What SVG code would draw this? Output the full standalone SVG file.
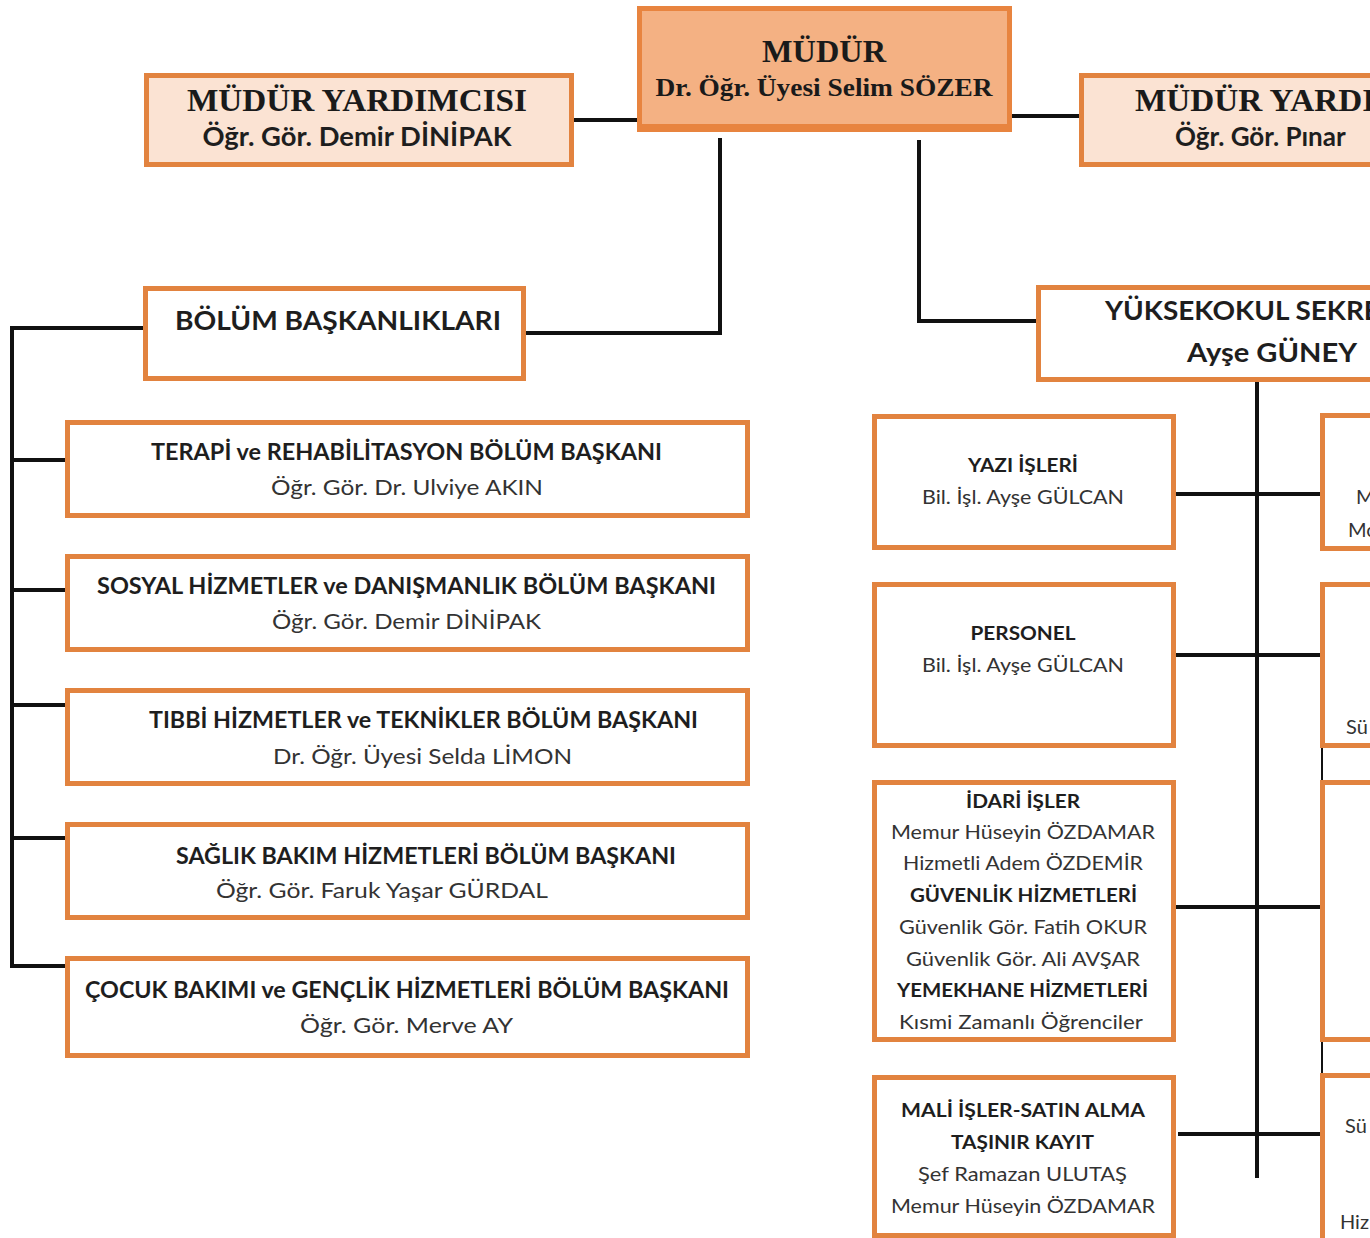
<svg xmlns="http://www.w3.org/2000/svg" width="1370" height="1238" viewBox="0 0 1370 1238">
<style>
.box{fill:#ffffff;stroke:#E2833F;stroke-width:5}
.peach{fill:#FBE3D3;stroke:#E2833F;stroke-width:5}
.main{fill:#F4B183;stroke:#E8843F;stroke-width:5}
.ln{fill:none;stroke:#111;stroke-width:4}
.thin{fill:none;stroke:#111;stroke-width:2}
.tb{font-family:"Liberation Serif","Times New Roman",serif;font-weight:bold;fill:#1a1a1a;text-anchor:middle}
.hb{font-family:Lato,"Open Sans","Liberation Sans",sans-serif;font-weight:bold;fill:#1e1e1e;text-anchor:middle}
.hr{font-family:Lato,"Open Sans","Liberation Sans",sans-serif;font-weight:normal;fill:#333;text-anchor:middle}
.st{text-anchor:start}
</style>
<rect width="1370" height="1238" fill="#ffffff"/>
<g id="connectors">
<path class="ln" d="M574,120 H637"/>
<path class="ln" d="M1012,116 H1079"/>
<path class="ln" d="M720,138 V333 H526"/>
<path class="ln" d="M919,140 V321 H1036"/>
<path class="ln" d="M143,328 H12 V966 H65"/>
<path class="ln" d="M12,460 H65 M12,590 H65 M12,705 H65 M12,838 H65"/>
<path class="ln" d="M1257,377 V1178"/>
<path class="ln" d="M1176,494 H1320 M1176,655 H1320 M1176,907 H1320 M1178,1134 H1320"/>
<path class="thin" d="M1322,748 V780 M1322,1042 V1073"/>
</g>
<g id="mudur">
<rect class="main" x="639.5" y="8.5" width="370" height="121"/>
<rect x="639" y="124" width="371" height="7" fill="#E8843F"/>
<text class="tb" x="824" y="62" font-size="32" textLength="124" lengthAdjust="spacingAndGlyphs">MÜDÜR</text>
<text class="tb" x="824" y="96" font-size="25" textLength="337" lengthAdjust="spacingAndGlyphs">Dr. Öğr. Üyesi Selim SÖZER</text>
</g>
<g id="mudur-yardimcisi-1">
<rect class="peach" x="146.5" y="75.5" width="425" height="89"/>
<text class="tb" x="357" y="111" font-size="32" textLength="340" lengthAdjust="spacingAndGlyphs">MÜDÜR YARDIMCISI</text>
<text class="hb" x="357" y="146" font-size="26" textLength="309" lengthAdjust="spacingAndGlyphs">Öğr. Gör. Demir DİNİPAK</text>
</g>
<g id="mudur-yardimcisi-2">
<rect class="peach" x="1081.5" y="75.5" width="400" height="89"/>
<text class="tb st" x="1135" y="111" font-size="32" textLength="340" lengthAdjust="spacingAndGlyphs">MÜDÜR YARDIMCISI</text>
<text class="hb st" x="1175" y="146" font-size="26">Öğr. Gör. Pınar</text>
</g>
<g id="bolum-baskanliklari">
<rect class="box" x="145.5" y="288.5" width="378" height="90"/>
<text class="hb" x="338" y="330" font-size="27" textLength="326" lengthAdjust="spacingAndGlyphs">BÖLÜM BAŞKANLIKLARI</text>
</g>
<g id="dept-1">
<rect class="box" x="67.5" y="422.5" width="680" height="93"/>
<text class="hb" x="406.5" y="460" font-size="22" textLength="511" lengthAdjust="spacingAndGlyphs">TERAPİ ve REHABİLİTASYON BÖLÜM BAŞKANI</text>
<text class="hr" x="407" y="495" font-size="22" textLength="272" lengthAdjust="spacingAndGlyphs">Öğr. Gör. Dr. Ulviye AKIN</text>
</g>
<g id="dept-2">
<rect class="box" x="67.5" y="556.5" width="680" height="93"/>
<text class="hb" x="406.5" y="594" font-size="22" textLength="619" lengthAdjust="spacingAndGlyphs">SOSYAL HİZMETLER ve DANIŞMANLIK BÖLÜM BAŞKANI</text>
<text class="hr" x="406.5" y="629" font-size="22" textLength="269" lengthAdjust="spacingAndGlyphs">Öğr. Gör. Demir DİNİPAK</text>
</g>
<g id="dept-3">
<rect class="box" x="67.5" y="690.5" width="680" height="93"/>
<text class="hb" x="423.5" y="728" font-size="22" textLength="549" lengthAdjust="spacingAndGlyphs">TIBBİ HİZMETLER ve TEKNİKLER BÖLÜM BAŞKANI</text>
<text class="hr" x="422.5" y="764" font-size="22" textLength="299" lengthAdjust="spacingAndGlyphs">Dr. Öğr. Üyesi Selda LİMON</text>
</g>
<g id="dept-4">
<rect class="box" x="67.5" y="824.5" width="680" height="93"/>
<text class="hb" x="426" y="864" font-size="22" textLength="500" lengthAdjust="spacingAndGlyphs">SAĞLIK BAKIM HİZMETLERİ BÖLÜM BAŞKANI</text>
<text class="hr" x="382" y="898" font-size="22" textLength="332" lengthAdjust="spacingAndGlyphs">Öğr. Gör. Faruk Yaşar GÜRDAL</text>
</g>
<g id="dept-5">
<rect class="box" x="67.5" y="958.5" width="680" height="97"/>
<text class="hb" x="407" y="998" font-size="22" textLength="644" lengthAdjust="spacingAndGlyphs">ÇOCUK BAKIMI ve GENÇLİK HİZMETLERİ BÖLÜM BAŞKANI</text>
<text class="hr" x="406.5" y="1033" font-size="22" textLength="213" lengthAdjust="spacingAndGlyphs">Öğr. Gör. Merve AY</text>
</g>
<g id="yuksekokul-sekreteri">
<rect class="box" x="1038.5" y="287.5" width="400" height="92"/>
<text class="hb st" x="1105" y="320" font-size="27" textLength="334" lengthAdjust="spacingAndGlyphs">YÜKSEKOKUL SEKRETERİ</text>
<text class="hb" x="1272" y="362" font-size="27" textLength="170" lengthAdjust="spacingAndGlyphs">Ayşe GÜNEY</text>
</g>
<g id="yazi-isleri">
<rect class="box" x="874.5" y="416.5" width="299" height="131"/>
<text class="hb" x="1023" y="472" font-size="19" textLength="110" lengthAdjust="spacingAndGlyphs">YAZI İŞLERİ</text>
<text class="hr" x="1023" y="504" font-size="20" textLength="202" lengthAdjust="spacingAndGlyphs">Bil. İşl. Ayşe GÜLCAN</text>
</g>
<g id="personel">
<rect class="box" x="874.5" y="584.5" width="299" height="161"/>
<text class="hb" x="1023" y="640" font-size="19" textLength="105" lengthAdjust="spacingAndGlyphs">PERSONEL</text>
<text class="hr" x="1023" y="672" font-size="20" textLength="202" lengthAdjust="spacingAndGlyphs">Bil. İşl. Ayşe GÜLCAN</text>
</g>
<g id="idari-isler">
<rect class="box" x="874.5" y="782.5" width="299" height="257"/>
<text class="hb" x="1023" y="808" font-size="19" textLength="114" lengthAdjust="spacingAndGlyphs">İDARİ İŞLER</text>
<text class="hr" x="1023" y="839" font-size="20" textLength="264" lengthAdjust="spacingAndGlyphs">Memur Hüseyin ÖZDAMAR</text>
<text class="hr" x="1023" y="870" font-size="20" textLength="240" lengthAdjust="spacingAndGlyphs">Hizmetli Adem ÖZDEMİR</text>
<text class="hb" x="1023.5" y="902" font-size="19" textLength="227" lengthAdjust="spacingAndGlyphs">GÜVENLİK HİZMETLERİ</text>
<text class="hr" x="1023" y="934" font-size="20" textLength="248" lengthAdjust="spacingAndGlyphs">Güvenlik Gör. Fatih OKUR</text>
<text class="hr" x="1023" y="966" font-size="20" textLength="234" lengthAdjust="spacingAndGlyphs">Güvenlik Gör. Ali AVŞAR</text>
<text class="hb" x="1022.5" y="997" font-size="19" textLength="251" lengthAdjust="spacingAndGlyphs">YEMEKHANE HİZMETLERİ</text>
<text class="hr" x="1021" y="1029" font-size="20" textLength="244" lengthAdjust="spacingAndGlyphs">Kısmi Zamanlı Öğrenciler</text>
</g>
<g id="mali-isler">
<rect class="box" x="874.5" y="1077.5" width="299" height="158"/>
<text class="hb" x="1023" y="1117" font-size="19" textLength="244" lengthAdjust="spacingAndGlyphs">MALİ İŞLER-SATIN ALMA</text>
<text class="hb" x="1022.5" y="1149" font-size="19" textLength="143" lengthAdjust="spacingAndGlyphs">TAŞINIR KAYIT</text>
<text class="hr" x="1022.5" y="1181" font-size="20" textLength="209" lengthAdjust="spacingAndGlyphs">Şef Ramazan ULUTAŞ</text>
<text class="hr" x="1023" y="1213" font-size="20" textLength="264" lengthAdjust="spacingAndGlyphs">Memur Hüseyin ÖZDAMAR</text>
</g>
<g id="right-1">
<rect class="box" x="1322.5" y="415.5" width="100" height="133"/>
<text class="hr st" x="1356" y="504" font-size="20">M</text>
<text class="hr st" x="1348" y="537" font-size="20">Mo</text>
</g>
<g id="right-2">
<rect class="box" x="1322.5" y="584.5" width="100" height="161"/>
<text class="hr st" x="1346" y="734" font-size="20">Sü</text>
</g>
<g id="right-3">
<rect class="box" x="1322.5" y="782.5" width="100" height="257"/>
</g>
<g id="right-4">
<rect class="box" x="1322.5" y="1075.5" width="100" height="170"/>
<text class="hr st" x="1345" y="1133" font-size="20">Sü</text>
<text class="hr st" x="1340" y="1229" font-size="20">Hiz</text>
</g>
</svg>
